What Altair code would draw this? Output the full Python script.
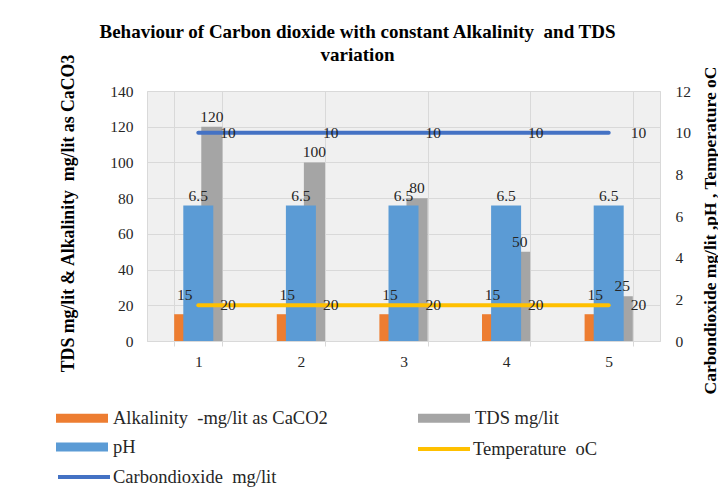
import altair as alt
import pandas as pd

# ---- data ----
categories = ["1", "2", "3", "4", "5"]
alkalinity = [15, 15, 15, 15, 15]
tds = [120, 100, 80, 50, 25]
ph = [6.5, 6.5, 6.5, 6.5, 6.5]
temperature = [20, 20, 20, 20, 20]
carbon_dioxide = [10, 10, 10, 10, 10]

ALK = "Alkalinity\u00a0 -mg/lit as CaCO2"
TDS = "TDS mg/lit"
PH = "pH"
TEMP = "Temperature\u00a0 oC"
CO2 = "Carbondioxide\u00a0 mg/lit"

left_ticks = [0, 20, 40, 60, 80, 100, 120, 140]
right_ticks = [0, 2, 4, 6, 8, 10, 12]

FONT = "Liberation Serif"
TXT = "#262626"
GRID = "#d9d9d9"
RECT = "M-1,-0.173H1V0.173H-1Z"

alk_df = pd.DataFrame({"cat": categories, "series": ALK, "value": alkalinity})
tds_df = pd.DataFrame({"cat": categories, "series": TDS, "value": tds})
primary_df = pd.concat([alk_df, tds_df], ignore_index=True)
ph_df = pd.DataFrame({"cat": categories, "series": PH, "value": ph})
temp_df = pd.DataFrame({"cat": categories, "series": TEMP, "value": temperature})
co2_df = pd.DataFrame({"cat": categories, "series": CO2, "value": carbon_dioxide})

x_enc = alt.X(
    "cat:N", title=None, sort=categories,
    scale=alt.Scale(domain=categories, paddingInner=0.53, paddingOuter=0.265),
    axis=alt.Axis(labelFont=FONT, labelFontSize=15.5, labelColor=TXT, labelAngle=0,
                  labelPadding=8, tickBand="extent", tickColor=GRID, tickSize=5,
                  domainColor=GRID, grid=True, gridColor=GRID),
)
xoff_enc = alt.XOffset("series:N", sort=[ALK, TDS],
                       scale=alt.Scale(domain=[ALK, TDS], paddingInner=0.22, paddingOuter=0))

left_scale = alt.Scale(domain=[0, 140], nice=False)
right_scale = alt.Scale(domain=[0, 12], nice=False)

left_axis = alt.Axis(
    orient="left", values=left_ticks, grid=True, gridColor=GRID, domain=False, ticks=False,
    labelFont=FONT, labelFontSize=15.5, labelColor=TXT, labelPadding=14,
    title="TDS mg/lit & Alkalinity\u00a0 mg/lit as CaCO3", titleFont=FONT, titleFontSize=17.8,
    titleFontWeight="bold", titleColor="black", titleAngle=270, titleX=-79, titleY=122,
    titleAlign="center", titleBaseline="middle",
)
right_axis = alt.Axis(
    orient="right", values=right_ticks, grid=False, domain=False, ticks=False,
    labelFont=FONT, labelFontSize=15.5, labelColor=TXT, labelPadding=15,
    title="Carbondioxide mg/lit ,pH , Temperature oC", titleFont=FONT, titleFontSize=17.5,
    titleFontWeight="bold", titleColor="black", titleAngle=270, titleX=50, titleY=139,
    titleAlign="center", titleBaseline="middle",
)

legend_common = dict(title=None, orient="none", labelFont=FONT, labelFontSize=18.5,
                     labelColor=TXT, labelLimit=600, padding=0, symbolSize=2704)

primary_bars = alt.Chart(primary_df).mark_bar().encode(
    x=x_enc, xOffset=xoff_enc,
    y=alt.Y("value:Q", scale=left_scale, axis=left_axis),
    fill=alt.Fill("series:N",
                  scale=alt.Scale(domain=[ALK, TDS], range=["#ED7D31", "#A5A5A5"]),
                  legend=alt.Legend(legendX=-91, legendY=301, direction="horizontal",
                                    columnPadding=90, symbolType=RECT, symbolStrokeWidth=0,
                                    labelOffset=5, **legend_common)),
)
ph_bars = alt.Chart(ph_df).mark_bar(width=30).encode(
    x=x_enc,
    y=alt.Y("value:Q", scale=right_scale, axis=right_axis),
    color=alt.Color("series:N", scale=alt.Scale(domain=[PH], range=["#5B9BD5"]),
                    legend=alt.Legend(legendX=-91, legendY=330, symbolType=RECT,
                                      symbolStrokeWidth=0, labelOffset=5, **legend_common)),
)
temp_line = alt.Chart(temp_df).mark_line(strokeWidth=4, strokeCap="round").encode(
    x=x_enc,
    y=alt.Y("value:Q", scale=left_scale, axis=None),
    stroke=alt.Stroke("series:N", scale=alt.Scale(domain=[TEMP], range=["#FFC000"]),
                      legend=alt.Legend(legendX=269, legendY=330, symbolType="stroke",
                                        symbolStrokeWidth=4, labelOffset=1,
                                        **legend_common)),
)
co2_line = alt.Chart(co2_df).mark_line(strokeWidth=4, strokeCap="round").encode(
    x=x_enc,
    y=alt.Y("value:Q", scale=right_scale, axis=None),
    color=alt.Color("series:N", scale=alt.Scale(domain=[CO2], range=["#4472C4"]),
                    legend=alt.Legend(legendX=-91, legendY=358, symbolType="stroke",
                                      symbolStrokeWidth=4, labelOffset=1,
                                      **legend_common)),
)

label_style = dict(font=FONT, fontSize=15.5, color=TXT, baseline="middle")

alk_text = alt.Chart(alk_df).mark_text(dy=-19, **label_style).encode(
    x=x_enc, xOffset=xoff_enc,
    y=alt.Y("value:Q", scale=left_scale, axis=None),
    text=alt.Text("value:Q", format="~g"),
)
tds_text = alt.Chart(tds_df).mark_text(dy=-10, **label_style).encode(
    x=x_enc, xOffset=xoff_enc,
    y=alt.Y("value:Q", scale=left_scale, axis=None),
    text=alt.Text("value:Q", format="~g"),
)
ph_text = alt.Chart(ph_df).mark_text(dy=-10, **label_style).encode(
    x=x_enc,
    y=alt.Y("value:Q", scale=right_scale, axis=None),
    text=alt.Text("value:Q", format="~g"),
)
temp_text = alt.Chart(temp_df).mark_text(dx=22, align="left", **label_style).encode(
    x=x_enc,
    y=alt.Y("value:Q", scale=left_scale, axis=None),
    text=alt.Text("value:Q", format="~g"),
)
co2_text = alt.Chart(co2_df).mark_text(dx=22, align="left", **label_style).encode(
    x=x_enc,
    y=alt.Y("value:Q", scale=right_scale, axis=None),
    text=alt.Text("value:Q", format="~g"),
)

chart = alt.layer(
    primary_bars, ph_bars, temp_line, co2_line,
    alk_text, tds_text, ph_text, temp_text, co2_text,
).resolve_scale(
    y="independent", color="independent"
).properties(
    width=513, height=250,
    autosize=alt.AutoSizeParams(type="none"),
    padding={"left": 139, "top": 83, "right": 58, "bottom": 148},
    title=alt.TitleParams(
        text=["Behaviour of Carbon dioxide with constant Alkalinity\u00a0 and TDS", "variation"],
        font=FONT, fontSize=19, fontWeight="bold", color="black",
        anchor="middle", frame="group", dx=-46, offset=-11, lineHeight=23,
    ),
).configure_view(
    stroke=GRID, fill="#f0f0f0"
)

chart.save("out.html", embed_options={"renderer": "svg", "actions": False})
